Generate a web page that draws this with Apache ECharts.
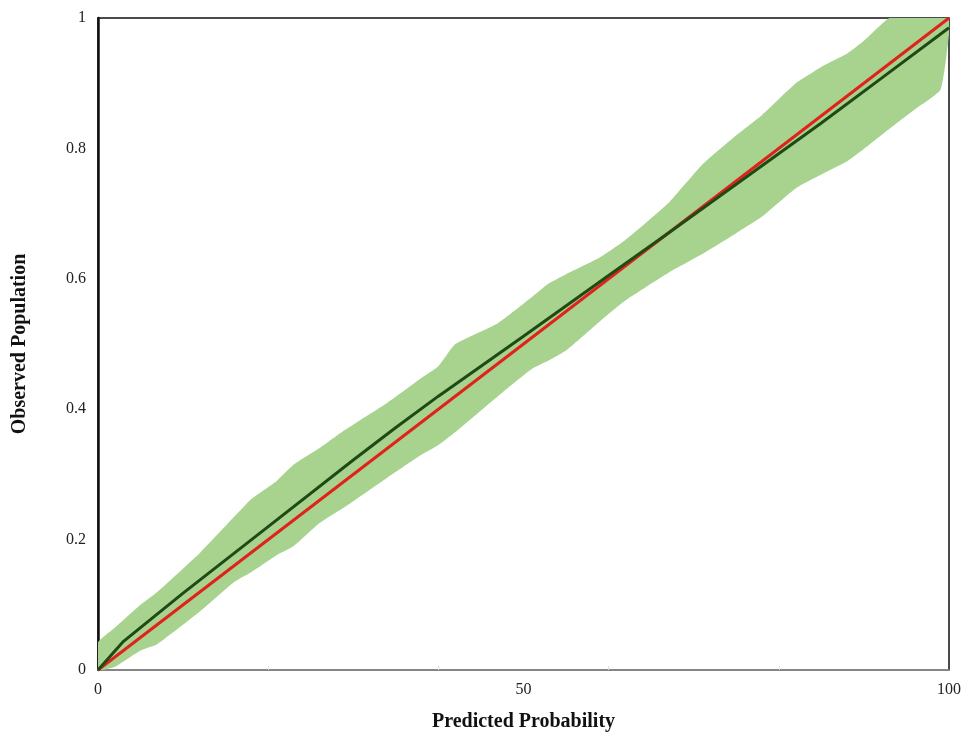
<!DOCTYPE html>
<html>
<head>
<meta charset="utf-8">
<script src="https://cdn.jsdelivr.net/npm/echarts@6/dist/echarts.min.js"></script>
<style>html,body{margin:0;padding:0;background:#fff;}#c{width:964px;height:737px;}</style>
</head>
<body>
<div id="c"></div>
<script>
// Confidence band
var bandX     = [0, 2, 5, 7, 12, 16, 18, 21, 23, 26, 29, 34, 38, 40, 42, 47, 51, 53, 55, 59, 62, 67, 71, 75, 78, 82, 85, 88, 90, 93, 96, 99, 100];
var bandUpper = [0.042, 0.065, 0.10, 0.12, 0.18, 0.235, 0.262, 0.29, 0.315, 0.34, 0.368, 0.41, 0.448, 0.466, 0.50, 0.532, 0.572, 0.593, 0.607, 0.633, 0.66, 0.716, 0.775, 0.82, 0.851, 0.90, 0.925, 0.945, 0.965, 1.0, 1.03, 1.06, 1.07];
var bandLower = [0, 0.005, 0.03, 0.04, 0.09, 0.135, 0.15, 0.176, 0.19, 0.225, 0.25, 0.295, 0.33, 0.345, 0.365, 0.42, 0.462, 0.475, 0.49, 0.535, 0.567, 0.609, 0.638, 0.67, 0.695, 0.739, 0.76, 0.78, 0.799, 0.83, 0.86, 0.89, 0.975];
// Model calibration curve (dark green)
var modelX = [0, 3, 10, 20, 30, 35, 40, 50, 60, 67, 75, 85, 92, 100];
var modelY = [0, 0.044, 0.118, 0.22, 0.322, 0.372, 0.42, 0.512, 0.605, 0.67, 0.745, 0.839, 0.907, 0.985];
// Perfect calibration (red)
var idealX = [0, 100];
var idealY = [0, 1];
// Axis labels
var xLabelValues = [0, 50, 100];
var xTickValues = [20, 40, 60, 80];

function pairs(xs, ys) { return xs.map(function (x, i) { return [x, ys[i]]; }); }
var bandData = bandX.map(function (x, i) { return [x, bandLower[i], bandUpper[i]]; });

var font = 'Liberation Serif';
var chart = echarts.init(document.getElementById('c'));
chart.setOption({
  animation: false,
  grid: { left: 98, right: 14, top: 18, bottom: 67, show: true, borderColor: '#111', borderWidth: 1.5, backgroundColor: 'transparent' },
  xAxis: {
    type: 'value', min: 0, max: 100,
    name: 'Predicted Probability', nameLocation: 'middle', nameGap: 42,
    nameTextStyle: { fontFamily: font, fontWeight: 'bold', fontSize: 20, color: '#111' },
    axisLine: { show: true, lineStyle: { color: '#9a9a9a', width: 1.5 } },
    axisTick: { show: true, inside: true, length: 4, customValues: xTickValues, lineStyle: { color: '#ddd' } },
    axisLabel: { customValues: xLabelValues, fontFamily: font, fontSize: 16, color: '#222', margin: 12 },
    splitLine: { show: false }
  },
  yAxis: {
    type: 'value', min: 0, max: 1, interval: 0.2,
    name: 'Observed Population', nameLocation: 'middle', nameGap: 68,
    nameTextStyle: { fontFamily: font, fontWeight: 'bold', fontSize: 20, color: '#111' },
    axisLine: { show: true, lineStyle: { color: '#111', width: 2.5 } },
    axisTick: { show: false },
    axisLabel: { fontFamily: font, fontSize: 16, color: '#222', margin: 12,
      formatter: function (v) { return String(+v.toFixed(1)); } },
    splitLine: { show: false }
  },
  series: [
    {
      type: 'custom', data: bandData, silent: true, z: 1, clip: true,
      encode: { x: 0, y: [1, 2] },
      renderItem: function (params, api) {
        if (params.dataIndex !== 0) return null;
        var upper = [], lower = [];
        for (var i = 0; i < bandData.length; i++) {
          upper.push(api.coord([bandData[i][0], bandData[i][2]]));
          lower.push(api.coord([bandData[i][0], bandData[i][1]]));
        }
        var pts = upper.concat(lower.reverse());
        var cs = params.coordSys;
        pts = echarts.graphic.clipPointsByRect(pts, { x: cs.x, y: cs.y, width: cs.width, height: cs.height });
        return { type: 'polygon', shape: { points: pts, smooth: 0.15 }, style: { fill: '#a7d38f' } };
      }
    },
    { type: 'line', data: pairs(idealX, idealY), symbol: 'none', lineStyle: { color: '#e0221c', width: 3 }, z: 3 },
    { type: 'line', data: pairs(modelX, modelY), symbol: 'none', lineStyle: { color: '#1f4a14', width: 3 }, z: 4 }
  ]
});
</script>
</body>
</html>
